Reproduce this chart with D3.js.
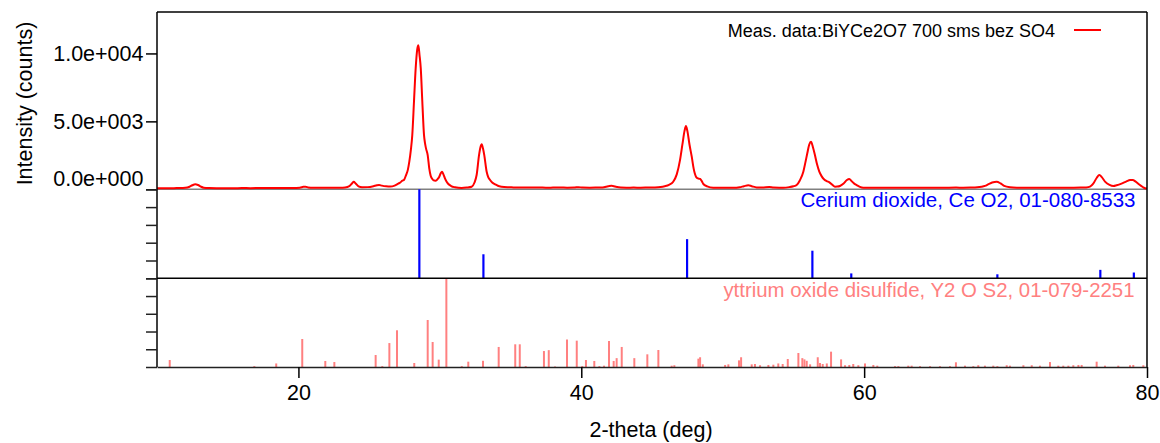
<!DOCTYPE html>
<html>
<head>
<meta charset="utf-8">
<script src="https://cdn.jsdelivr.net/npm/d3@7/dist/d3.min.js"></script>
<style>
  html, body { margin: 0; padding: 0; background: #fff; }
  svg { display: block; font-family: "Liberation Sans", Arial, sans-serif; }
</style>
</head>
<body>
<svg id="chart" width="1160" height="443"></svg>
<script>
// Measured scan: 2-theta (deg) and intensity (counts)
const measAngle = [
  10.0, 10.4, 10.8, 11.2, 11.6, 12.0, 12.3, 12.5, 12.7, 12.9, 13.1, 13.3, 13.7, 14.2, 14.8,
  15.4, 16.0, 16.6, 17.2, 17.8, 18.4, 19.0, 19.6, 20.1, 20.35, 20.5, 20.7, 21.0, 21.6, 22.2,
  22.8, 23.3, 23.6, 23.8, 23.91, 24.05, 24.25, 24.5, 24.9, 25.3, 25.55, 25.7, 25.9, 26.2, 26.5,
  26.8, 27.06, 27.2, 27.34, 27.48, 27.61, 27.74, 27.84, 27.95, 28.05, 28.17, 28.29, 28.4, 28.48, 28.56,
  28.65, 28.76, 28.88, 28.95, 29.02, 29.14, 29.25, 29.35, 29.47, 29.6, 29.71, 29.85, 29.96, 30.07, 30.15,
  30.25, 30.36, 30.48, 30.6, 30.8, 31.07, 31.3, 31.54, 31.9, 32.25, 32.45, 32.6, 32.77, 32.87, 32.96,
  33.05, 33.14, 33.31, 33.42, 33.55, 33.7, 33.9, 34.1, 34.37, 34.8, 35.2, 35.6, 36.0, 36.5, 37.0,
  37.5, 38.0, 38.5, 39.0, 39.5, 39.8, 40.1, 40.6, 41.0, 41.5, 41.9, 42.15, 42.4, 42.8, 43.2,
  43.7, 44.2, 44.7, 45.2, 45.6, 45.9, 46.2, 46.5, 46.75, 46.98, 47.15, 47.3, 47.4, 47.5, 47.65,
  47.81, 47.95, 48.11, 48.25, 48.4, 48.52, 48.63, 48.9, 49.33, 49.8, 50.3, 50.75, 51.2, 51.5, 51.81,
  52.05, 52.4, 52.8, 53.29, 53.6, 54.0, 54.28, 54.7, 55.0, 55.23, 55.45, 55.7, 55.85, 55.98, 56.12,
  56.24, 56.38, 56.52, 56.68, 56.83, 57.0, 57.16, 57.35, 57.54, 57.75, 57.94, 58.1, 58.29, 58.55, 58.78,
  58.95, 59.12, 59.3, 59.47, 59.7, 59.94, 60.5, 61.0, 61.5, 62.0, 62.5, 63.0, 63.5, 64.0, 64.5,
  65.0, 65.5, 66.0, 66.5, 67.0, 67.5, 68.0, 68.3, 68.54, 68.8, 69.05, 69.37, 69.65, 69.9, 70.31,
  70.8, 71.3, 71.8, 72.3, 72.8, 73.3, 73.8, 74.3, 74.8, 75.3, 75.7, 75.97, 76.2, 76.45, 76.63,
  76.8, 77.05, 77.35, 77.62, 77.85, 78.2, 78.55, 78.8, 78.99, 79.2, 79.45, 79.7, 79.86, 80.0
];
const measCounts = [
  70, 80, 75, 85, 90, 110, 190, 300, 370, 320, 200, 120, 90, 80, 85,
  80, 90, 85, 90, 95, 90, 100, 100, 120, 180, 190, 140, 105, 110, 105,
  115, 140, 230, 450, 560, 430, 220, 150, 160, 230, 300, 320, 270, 220, 200,
  270, 420, 500, 630, 720, 1050, 1450, 2030, 2900, 3990, 6440, 8900, 10300, 10610, 9900,
  8900, 6440, 3990, 3400, 3015, 2520, 1545, 1000, 760, 640, 630, 760, 925, 1200, 1295,
  1100, 810, 560, 390, 240, 150, 110, 100, 130, 190, 500, 1050, 2520, 3100, 3310,
  3000, 2520, 1295, 900, 685, 500, 370, 260, 190, 150, 140, 130, 135, 125, 130,
  120, 125, 130, 120, 130, 160, 125, 120, 125, 140, 220, 265, 200, 130, 120,
  125, 120, 130, 140, 170, 230, 330, 560, 1100, 2150, 3300, 4300, 4650, 4300, 3300,
  2400, 1500, 930, 800, 760, 600, 390, 220, 120, 115, 120, 110, 150, 230, 295,
  230, 140, 130, 170, 130, 120, 120, 160, 220, 315, 650, 1295, 2000, 2650, 3300,
  3500, 3100, 2520, 1800, 1295, 950, 735, 600, 515, 330, 190, 200, 245, 420, 680,
  760, 600, 420, 315, 180, 120, 110, 115, 110, 120, 115, 110, 120, 115, 110,
  115, 110, 120, 125, 120, 130, 150, 190, 250, 380, 500, 560, 430, 250, 150,
  120, 115, 110, 115, 105, 110, 110, 115, 120, 125, 140, 200, 420, 850, 1050,
  900, 550, 330, 250, 300, 420, 580, 680, 685, 560, 350, 170, 75, 60
];

// Reference pattern: Cerium dioxide, Ce O2 (relative intensity, %)
const ceriumAngle = [28.55, 33.08, 47.48, 56.34, 59.09, 69.42, 76.7, 79.07];
const ceriumIntensity = [100, 27, 44, 31, 5.5, 4.5, 9.5, 6.5];

// Reference pattern: yttrium oxide disulfide, Y2 O S2 (relative intensity, %)
const yttriumAngle = [
  10.9, 16.88, 18.43, 20.27, 21.9, 22.54, 25.46, 25.93, 26.43, 26.97, 28.19, 29.14, 29.49, 29.92, 30.46,
  31.55, 32.01, 33.05, 34.16, 35.33, 35.65, 36.07, 37.36, 37.7, 38.14, 38.99, 39.68, 40.07, 40.33, 40.92,
  41.28, 41.61, 41.96, 42.29, 42.5, 42.86, 43.75, 44.67, 45.45, 46.39, 46.58, 48.28, 48.4, 48.59, 50.17,
  50.4, 51.15, 51.3, 52.05, 52.28, 52.64, 53.23, 53.58, 53.93, 54.24, 54.6, 55.35, 55.63, 55.78, 55.94,
  56.18, 56.72, 56.88, 57.07, 57.36, 57.66, 58.37, 58.65, 58.95, 59.23, 59.59, 60.06, 60.65, 60.93, 62.18,
  62.42, 63.12, 63.36, 63.95, 64.66, 65.36, 66.07, 66.49, 67.13, 67.72, 68.07, 68.54, 69.13, 69.42, 70.08,
  70.31, 71.26, 71.85, 72.43, 73.14, 73.73, 74.08, 74.44, 74.79, 75.15, 75.38, 76.44, 77.03, 77.97, 78.8,
  79.03, 79.74
];
const yttriumIntensity = [
  7.9, 1, 4, 31.6, 6.8, 5.6, 13.5, 1, 27, 41.4, 4.5, 53, 28.2, 8.3, 100,
  1, 6, 7, 22.6, 25.6, 25.6, 1, 18, 19, 0.6, 31, 29.7, 1, 7.9, 6.8,
  1, 1.5, 29.3, 6.8, 10, 22.6, 10, 14.3, 19.2, 1.5, 2, 9.4, 11, 3, 2.3,
  3, 7.5, 11, 3, 3.4, 2, 2.3, 2.6, 4, 3.4, 9, 15.8, 10, 8.6, 7,
  3, 11, 4.5, 3.4, 4, 17.3, 8.6, 2, 2.3, 3.4, 2, 4, 2.3, 1.5, 1,
  1, 1.5, 1.5, 1, 1, 1, 1, 5.3, 1.5, 1, 2, 1.5, 1.5, 1, 2,
  1.5, 2, 2, 1.5, 5.6, 1.5, 1.5, 1.5, 2, 2.3, 2.3, 6, 1.5, 1.5, 2,
  2.3, 2
];

// Axis ticks and labels
const xTicks = [20, 40, 60, 80];
const yTicks = [0, 5000, 10000];
const yTickLabels = ["0.0e+000", "5.0e+003", "1.0e+004"];
const stickTicks = [0, 20, 40, 60, 80, 100];

const measName = "Meas. data:BiYCe2O7 700 sms bez SO4";
const ceriumName = "Cerium dioxide, Ce O2, 01-080-8533";
const yttriumName = "yttrium oxide disulfide, Y2 O S2, 01-079-2251";

// Layout
const L = 157, R = 1147, TOP = 12, ZERO = 189.3, MID = 278.3, BOT = 367;
const FONT = 21.5;

const svg = d3.select("#chart");

const x = d3.scaleLinear().domain([10, 80]).range([L, R]);
const yMeas = d3.scaleLinear().domain([0, 13050]).range([ZERO, TOP]);
const yCe = d3.scaleLinear().domain([0, 100]).range([MID, ZERO]);
const yY = d3.scaleLinear().domain([0, 100]).range([BOT, MID]);

svg.append("defs").append("clipPath").attr("id", "plotClip")
  .append("rect").attr("x", L).attr("y", TOP).attr("width", R - L).attr("height", BOT - TOP);

// Zero line of the measured scan
svg.append("line")
  .attr("x1", L).attr("x2", R).attr("y1", ZERO).attr("y2", ZERO)
  .attr("stroke", "#808080").attr("stroke-width", 1.5);

// Reference sticks
const ceData = ceriumAngle.map((a, i) => ({ a, v: ceriumIntensity[i] }));
const yData = yttriumAngle.map((a, i) => ({ a, v: yttriumIntensity[i] }));

svg.append("g").selectAll("line").data(yData).join("line")
  .attr("x1", d => x(d.a)).attr("x2", d => x(d.a))
  .attr("y1", yY(0)).attr("y2", d => yY(d.v))
  .attr("stroke", "#ff8080").attr("stroke-width", 2);

svg.append("g").selectAll("line").data(ceData).join("line")
  .attr("x1", d => x(d.a)).attr("x2", d => x(d.a))
  .attr("y1", yCe(0)).attr("y2", d => yCe(d.v))
  .attr("stroke", "#0000ff").attr("stroke-width", 2.2);

// Measured curve
const measData = measAngle.map((a, i) => [a, measCounts[i]]);
svg.append("path")
  .datum(measData)
  .attr("clip-path", "url(#plotClip)")
  .attr("fill", "none")
  .attr("stroke", "#ff0000")
  .attr("stroke-width", 2)
  .attr("stroke-linejoin", "round")
  .attr("d", d3.line().x(d => x(d[0])).y(d => yMeas(d[1])).curve(d3.curveMonotoneX));

// Frame and panel separators
svg.append("line").attr("x1", L).attr("x2", R).attr("y1", TOP).attr("y2", TOP)
  .attr("stroke", "#000").attr("stroke-width", 1.5);
svg.append("line").attr("x1", L).attr("x2", R).attr("y1", MID).attr("y2", MID)
  .attr("stroke", "#000").attr("stroke-width", 1.5);
svg.append("line").attr("x1", L).attr("x2", L).attr("y1", TOP).attr("y2", BOT)
  .attr("stroke", "#000").attr("stroke-width", 1.5);
svg.append("line").attr("x1", R).attr("x2", R).attr("y1", TOP).attr("y2", BOT)
  .attr("stroke", "#000").attr("stroke-width", 1.5);

// Y axis of the measured scan
const yAxis = svg.append("g").attr("transform", `translate(${L},0)`)
  .call(d3.axisLeft(yMeas).tickValues(yTicks).tickSize(11).tickPadding(2.5)
    .tickFormat((d, i) => yTickLabels[i]));
yAxis.select(".domain").remove();
yAxis.selectAll(".tick line").attr("stroke", "#000").attr("stroke-width", 1.5);
yAxis.selectAll(".tick text")
  .attr("font-size", FONT).attr("font-family", "Liberation Sans, Arial, sans-serif")
  .attr("fill", "#000")
  .attr("dy", (d) => d === 0 ? "-0.18em" : "0.34em");

// Unlabelled ticks on the stick panels
[yCe, yY].forEach(s => {
  const g = svg.append("g").attr("transform", `translate(${L},0)`)
    .call(d3.axisLeft(s).tickValues(stickTicks).tickSize(11).tickFormat(""));
  g.select(".domain").remove();
  g.selectAll(".tick line").attr("stroke", "#222").attr("stroke-width", 1.5);
});

// X axis
const xAxis = svg.append("g").attr("transform", `translate(0,${BOT})`)
  .call(d3.axisBottom(x).tickValues(xTicks).tickSize(11).tickSizeOuter(0).tickPadding(7));
xAxis.select(".domain").attr("stroke", "#222").attr("stroke-width", 1.5);
xAxis.selectAll(".tick line").attr("stroke", "#000").attr("stroke-width", 1.5);
xAxis.selectAll(".tick text")
  .attr("font-size", FONT).attr("font-family", "Liberation Sans, Arial, sans-serif")
  .attr("fill", "#000");

// Axis titles
svg.append("text")
  .attr("x", (L + R) / 2 - 1).attr("y", 437)
  .attr("text-anchor", "middle").attr("font-size", FONT).attr("fill", "#000")
  .text("2-theta (deg)");
svg.append("text")
  .attr("transform", "translate(31.5,103.5) rotate(-90)")
  .attr("text-anchor", "middle").attr("font-size", FONT).attr("fill", "#000")
  .text("Intensity (counts)");

// Legend of the measured scan
svg.append("text")
  .attr("x", 1055).attr("y", 36.7).attr("text-anchor", "end")
  .attr("font-size", 18).attr("fill", "#000")
  .text(measName);
svg.append("line")
  .attr("x1", 1074).attr("x2", 1101).attr("y1", 30).attr("y2", 30)
  .attr("stroke", "#ff0000").attr("stroke-width", 2);

// Reference pattern names
svg.append("text")
  .attr("x", 1135.5).attr("y", 207.3).attr("text-anchor", "end")
  .attr("font-size", 20.5).attr("fill", "#0000ff")
  .text(ceriumName);
svg.append("text")
  .attr("x", 1134.5).attr("y", 296.7).attr("text-anchor", "end")
  .attr("font-size", 20.4).attr("fill", "#ff8080")
  .text(yttriumName);
</script>
</body>
</html>
